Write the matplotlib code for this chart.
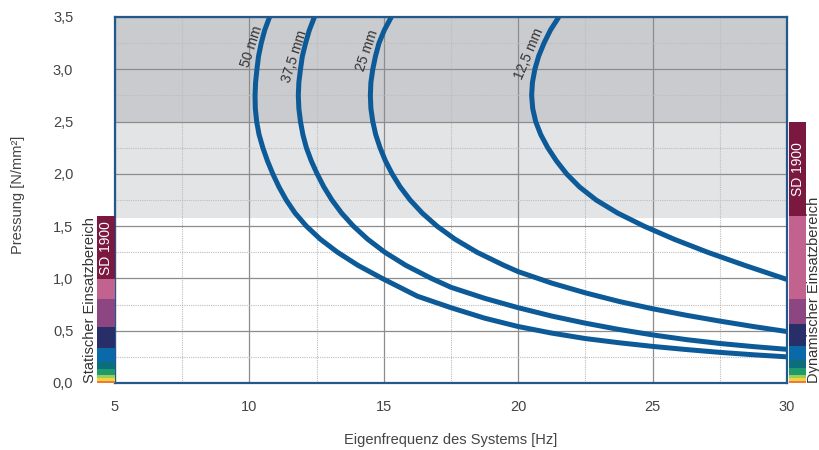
import matplotlib
matplotlib.use("Agg")
import matplotlib.pyplot as plt
import matplotlib.ticker as ticker

plt.rcParams['font.family'] = ['Liberation Sans Narrow', 'Liberation Sans', 'DejaVu Sans']

# Kurven: Pressung [N/mm2] und Eigenfrequenz [Hz]
p_50 = [3.5, 3.375, 3.25, 3.125, 3.0, 2.875, 2.75, 2.625, 2.5, 2.375, 2.25, 2.125, 2.0,
        1.875, 1.75, 1.625, 1.5, 1.375, 1.25, 1.125, 1.0, 0.83, 0.72, 0.62, 0.54,
        0.477, 0.425, 0.385, 0.35, 0.32, 0.293, 0.27, 0.25]
f_50 = [10.75, 10.57, 10.44, 10.34, 10.28, 10.23, 10.21, 10.22, 10.27, 10.36, 10.5, 10.67, 10.87,
        11.1, 11.37, 11.7, 12.12, 12.64, 13.28, 14.04, 14.94, 16.25, 17.5, 18.75, 20.0,
        21.25, 22.5, 23.75, 25.0, 26.25, 27.5, 28.75, 30.0]

p_375 = [3.5, 3.375, 3.25, 3.125, 3.0, 2.875, 2.75, 2.625, 2.5, 2.375, 2.25, 2.125, 2.0,
         1.875, 1.75, 1.625, 1.5, 1.375, 1.25, 1.125, 1.0, 0.915, 0.81, 0.72, 0.64,
         0.572, 0.512, 0.46, 0.415, 0.378, 0.348, 0.322]
f_375 = [12.42, 12.23, 12.09, 11.97, 11.9, 11.84, 11.82, 11.84, 11.9, 11.99, 12.12, 12.3, 12.52,
         12.77, 13.07, 13.43, 13.87, 14.4, 15.04, 15.82, 16.77, 17.5, 18.75, 20.0, 21.25,
         22.5, 23.75, 25.0, 26.25, 27.5, 28.75, 30.0]

p_25 = [3.5, 3.375, 3.25, 3.125, 3.0, 2.875, 2.75, 2.625, 2.5, 2.375, 2.25, 2.125, 2.0,
        1.875, 1.75, 1.625, 1.5, 1.375, 1.25, 1.125, 1.065, 0.955, 0.862, 0.78, 0.71,
        0.648, 0.592, 0.54, 0.492]
f_25 = [15.28, 15.02, 14.82, 14.69, 14.59, 14.52, 14.5, 14.52, 14.59, 14.7, 14.86, 15.06, 15.31,
        15.61, 15.98, 16.43, 16.98, 17.65, 18.47, 19.47, 20.0, 21.25, 22.5, 23.75, 25.0,
        26.25, 27.5, 28.75, 30.0]

p_125 = [3.5, 3.375, 3.25, 3.125, 3.0, 2.875, 2.75, 2.625, 2.5, 2.375, 2.25, 2.125, 2.0,
         1.875, 1.75, 1.625, 1.5, 1.375, 1.25, 1.125, 0.99]
f_125 = [21.51, 21.2, 20.96, 20.76, 20.62, 20.53, 20.5, 20.54, 20.65, 20.84, 21.1, 21.42, 21.8,
         22.28, 22.9, 23.7, 24.68, 25.8, 27.05, 28.43, 30.0]

curves = [(f_50, p_50), (f_375, p_375), (f_25, p_25), (f_125, p_125)]
labels = ["50 mm", "37,5 mm", "25 mm", "12,5 mm"]
label_pos = [(10.1, 3.22), (11.7, 3.12), (14.4, 3.18), (20.4, 3.15)]
label_rot = [72, 72, 71, 67]

# Einsatzbereiche (Balken links/rechts): Grenzen und Farben
static_edges = [0.0, 0.02, 0.045, 0.08, 0.13, 0.2, 0.33, 0.54, 0.8, 0.99, 1.6]
static_colors = ["#f07a3c", "#f0d43c", "#9ccc5a", "#1e9a6c", "#0b6e7a", "#0a69a8",
                 "#282f68", "#8c4783", "#c1628f", "#7a1840"]
dyn_edges = [0.0, 0.02, 0.045, 0.08, 0.14, 0.22, 0.35, 0.56, 0.8, 1.6, 2.5]
dyn_colors = ["#f07a3c", "#f0d43c", "#9ccc5a", "#1e9a6c", "#0b6e7a", "#0a69a8",
              "#282f68", "#8c4783", "#c1628f", "#7a1840"]

static_top = 1.58
dyn_band = (2.5, 3.5)

curve_col = "#0d5a98"
spine_col = "#22598a"
txt_col = "#444444"

fig = plt.figure(figsize=(8.19, 4.5), dpi=100)
W, H = 819, 450
ax = fig.add_axes([115 / W, 67 / H, 672 / W, 366 / H])

ax.axhspan(*dyn_band, color="#c9cbce", zorder=0, lw=0)
ax.axhspan(static_top, dyn_band[0], color="#e2e4e6", zorder=0, lw=0)

for (f, p) in curves:
    ax.plot(f, p, color=curve_col, lw=3.6, solid_capstyle="butt",
            solid_joinstyle="round", zorder=3)

for lab, (x, y), r in zip(labels, label_pos, label_rot):
    ax.text(x, y, lab, rotation=r, ha="center", va="center", fontsize=10,
            color="#333333", zorder=4)

ax.set_xlim(5, 30)
ax.set_ylim(0, 3.5)
ax.xaxis.set_major_locator(ticker.MultipleLocator(5))
ax.xaxis.set_minor_locator(ticker.MultipleLocator(2.5))
ax.yaxis.set_major_locator(ticker.MultipleLocator(0.5))
ax.yaxis.set_minor_locator(ticker.MultipleLocator(0.25))
ax.yaxis.set_major_formatter(ticker.FuncFormatter(lambda v, _: f"{v:.1f}".replace(".", ",")))
ax.grid(which="major", color="#8c8c8c", lw=0.9, zorder=1)
ax.grid(which="minor", color="#bdbdbd", lw=0.8, ls=(0, (1, 1)), zorder=1)
ax.set_axisbelow(True)
ax.tick_params(which="both", length=0, labelsize=10.5, labelcolor=txt_col)
ax.tick_params(axis="y", pad=30)
ax.tick_params(axis="x", pad=12)
for s in ax.spines.values():
    s.set_color(spine_col)
    s.set_linewidth(1.6)
    s.set_zorder(5)

# linker Balken (statisch)
axl = fig.add_axes([97 / W, 67 / H, 18 / W, 366 / H], sharey=ax)
for i in range(len(static_edges) - 1):
    lo, hi = static_edges[i], static_edges[i + 1]
    axl.bar(0, hi - lo, bottom=lo, width=1, color=static_colors[i], lw=0)
axl.set_xlim(-0.5, 0.5)
axl.axis("off")
axl.text(0, (static_edges[-2] + static_edges[-1]) / 2, "SD 1900", rotation=90,
         ha="center", va="center", color="white", fontsize=10)

# rechter Balken (dynamisch)
axr = fig.add_axes([789 / W, 67 / H, 17 / W, 366 / H], sharey=ax)
for i in range(len(dyn_edges) - 1):
    lo, hi = dyn_edges[i], dyn_edges[i + 1]
    axr.bar(0, hi - lo, bottom=lo, width=1, color=dyn_colors[i], lw=0)
axr.set_xlim(-0.5, 0.5)
axr.axis("off")
axr.text(0, (dyn_edges[-2] + dyn_edges[-1]) / 2, "SD 1900", rotation=90,
         ha="center", va="center", color="white", fontsize=10)

fig.text(90 / W, 67 / H, "Statischer Einsatzbereich", rotation=90, ha="center",
         va="bottom", fontsize=10.5, color="#333333")
fig.text(814 / W, 67 / H, "Dynamischer Einsatzbereich", rotation=90, ha="center",
         va="bottom", fontsize=10.5, color="#333333")

fig.text(18 / W, 1 - 195 / H, "Pressung [N/mm²]", rotation=90, ha="center",
         va="center", fontsize=10.5, color=txt_col)
fig.text(451 / W, 10 / H, "Eigenfrequenz des Systems [Hz]", ha="center",
         va="center", fontsize=10.5, color=txt_col)

fig.savefig("out.png", dpi=100)
